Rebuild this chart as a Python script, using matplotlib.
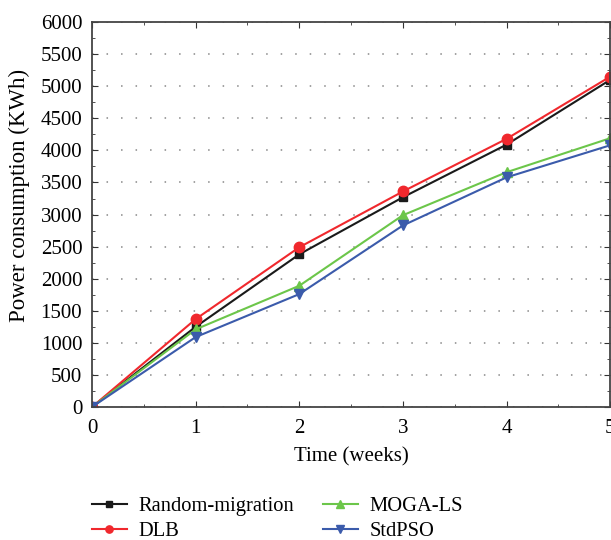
import matplotlib
matplotlib.use("Agg")
import matplotlib.pyplot as plt
from matplotlib.ticker import MultipleLocator

plt.rcParams['font.family'] = ['Liberation Serif', 'DejaVu Serif']

weeks = [0, 1, 2, 3, 4, 5]
random_migration = [0, 1250, 2380, 3270, 4090, 5100]
dlb = [0, 1370, 2490, 3360, 4180, 5150]
moga_ls = [0, 1210, 1890, 2990, 3660, 4190]
std_pso = [0, 1090, 1760, 2830, 3580, 4080]

fig = plt.figure(figsize=(6.11, 5.40), dpi=100)
ax = fig.add_axes([0.1506, 0.2463, 0.8480, 0.7127])

ax.plot(weeks, random_migration, color='#1a1a1a', lw=1.5, marker='s', ms=6, label='Random-migration')
ax.plot(weeks, dlb, color='#f0282d', lw=1.5, marker='o', ms=7.5, label='DLB')
ax.plot(weeks, moga_ls, color='#6cc64a', lw=1.5, marker='^', ms=7.5, label='MOGA-LS')
ax.plot(weeks, std_pso, color='#3b5bab', lw=1.5, marker='v', ms=7.5, label='StdPSO')

ax.set_xlim(0, 5)
ax.set_ylim(0, 6000)
ax.xaxis.set_major_locator(MultipleLocator(1))
ax.xaxis.set_minor_locator(MultipleLocator(0.5))
ax.yaxis.set_major_locator(MultipleLocator(500))
ax.yaxis.set_minor_locator(MultipleLocator(250))
ax.tick_params(which='both', direction='in', labelsize=15, color='#333333',
               top=True, right=True)
ax.tick_params(which='major', length=4)
ax.tick_params(which='minor', length=2)
ax.tick_params(axis='y', which='major', pad=7)
ax.tick_params(axis='x', which='major', pad=9)
ax.grid(True, which='major', axis='y', linestyle=(0, (1, 8.5)), color='#888888', lw=1.1)
for s in ax.spines.values():
    s.set_color('#444444')
    s.set_linewidth(1.3)

ax.set_xlabel('Time (weeks)', fontsize=15, labelpad=6)
ax.set_ylabel('Power consumption (KWh)', fontsize=16.5)
ax.yaxis.set_label_coords(-0.12, 0.55)

fig.legend(*ax.get_legend_handles_labels(), loc='upper left',
           bbox_to_anchor=(0.123, 0.111), ncol=2, frameon=False,
           fontsize=14.8, handlelength=1.7, handletextpad=0.58,
           columnspacing=1.4, labelspacing=0.3, markerscale=0.7,
           borderpad=0.3)

fig.savefig('out.png', dpi=100)
